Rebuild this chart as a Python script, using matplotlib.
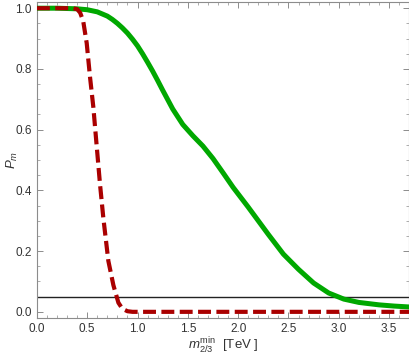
import numpy as np
import matplotlib
matplotlib.use('Agg')
import matplotlib.pyplot as plt
from matplotlib.ticker import MultipleLocator, FormatStrFormatter

# данные
green_x = [0.0, 0.2, 0.4, 0.5, 0.6, 0.7, 0.75, 0.8, 0.85, 0.9, 0.95, 1.0, 1.05, 1.1, 1.15,
           1.2, 1.25, 1.35, 1.45, 1.55, 1.65, 1.75, 1.85, 1.95, 2.1, 2.3, 2.45, 2.6, 2.75,
           2.9, 3.05, 3.2, 3.4, 3.55, 3.7]
green_p = [1.0, 1.0, 0.998, 0.995, 0.988, 0.974, 0.963, 0.95, 0.935, 0.918, 0.898, 0.876,
           0.85, 0.822, 0.793, 0.762, 0.73, 0.668, 0.617, 0.58, 0.546, 0.505, 0.458, 0.41,
           0.345, 0.255, 0.19, 0.14, 0.095, 0.062, 0.042, 0.031, 0.023, 0.019, 0.016]

red_x = [0.0, 0.35, 0.4, 0.43, 0.46, 0.495, 0.528, 0.561, 0.588, 0.627, 0.66, 0.71, 0.76,
         0.81, 0.85, 0.9, 0.95, 3.7]
red_p = [1.0, 1.0, 0.997, 0.985, 0.958, 0.885, 0.773, 0.674, 0.57, 0.421, 0.31, 0.168, 0.088,
         0.03, 0.01, 0.002, 0.0, 0.0]

threshold = 0.05

plt.rcParams['font.family'] = ['Liberation Sans', 'DejaVu Sans']
plt.rcParams['mathtext.fontset'] = 'custom'
plt.rcParams['mathtext.rm'] = 'Liberation Sans'
plt.rcParams['mathtext.it'] = 'Liberation Sans:italic'

fig = plt.figure(figsize=(4.1, 3.56), dpi=100)
ax = fig.add_axes([0.09, 0.107, 0.908, 0.887])

ax.axhline(threshold, color='#222222', lw=1.0, zorder=2)
ax.plot(green_x, green_p, color='#00A800', lw=3.6, zorder=3, solid_capstyle='butt',
        solid_joinstyle='round')
ax.plot(red_x, red_p, color='#AA0000', lw=3.0, zorder=4, linestyle=(0, (3.1, 1.3)),
        dash_capstyle='butt')

ax.set_xlim(0, 3.7)
ax.set_ylim(-0.02, 1.02)
ax.xaxis.set_major_locator(MultipleLocator(0.5))
ax.xaxis.set_minor_locator(MultipleLocator(0.1))
ax.yaxis.set_major_locator(MultipleLocator(0.2))
ax.yaxis.set_minor_locator(MultipleLocator(0.05))

frame_col = '#8c8c8c'
for s in ax.spines.values():
    s.set_color(frame_col)
    s.set_linewidth(0.8)
ax.tick_params(which='both', direction='in', top=True, right=True, color=frame_col,
               labelcolor='#333333', labelsize=8.5)
ax.tick_params(which='major', length=4, width=0.7)
ax.tick_params(which='minor', length=2, width=0.5)
ax.xaxis.set_major_formatter(FormatStrFormatter('%.1f'))
ax.yaxis.set_major_formatter(FormatStrFormatter('%.1f'))

ax.set_xlabel(r'$m_{2/3}^{\mathrm{min}}$  [TeV ]', fontsize=9.5, color='#333333', labelpad=0.5)
ax.set_ylabel(r'$P_m$', fontsize=9.5, color='#333333')
ax.yaxis.set_label_coords(-0.045, 0.5)

fig.savefig('out.png', dpi=100)
